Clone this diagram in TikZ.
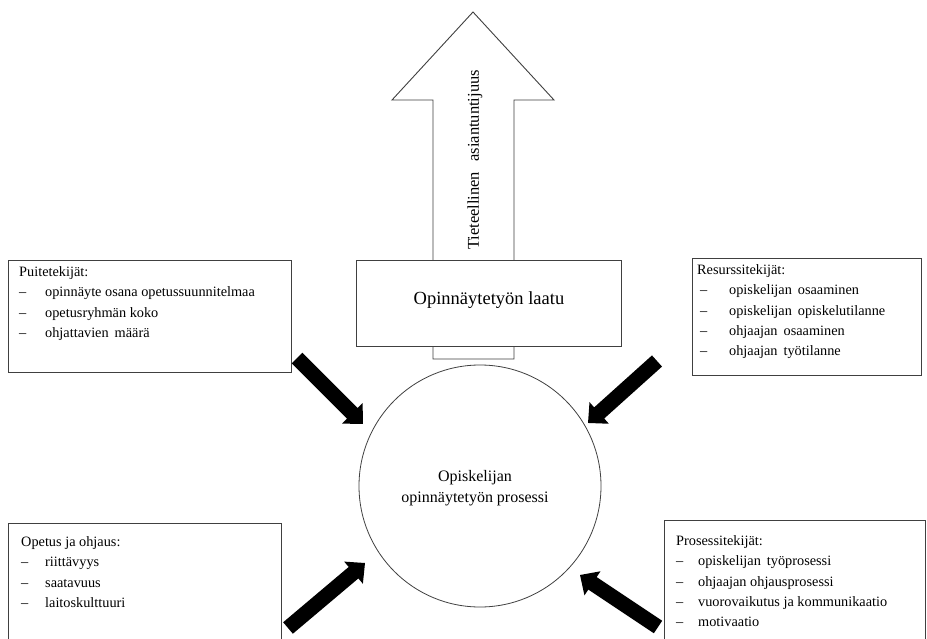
\documentclass[tikz,border=0pt]{standalone}
\usepackage{fontspec}
\setmainfont{Liberation Serif}
\usetikzlibrary{calc}

% thick black block arrow from #1 (tail) to #2 (tip)
\newcommand\blockarrow[2]{%
  \path let \p1=(#1), \p2=(#2),
    \n1={atan2(\y2-\y1,\x2-\x1)}, \n2={veclen(\x2-\x1,\y2-\y1)} in
    \pgfextra{\xdef\arrang{\n1}\xdef\arrlen{\n2}};
  \fill[pusharrow, shift={(#1)}, rotate=\arrang]
    (0,7.5) -- (\arrlen-15,7.5) -- (\arrlen-15,14.5) -- (\arrlen,0)
    -- (\arrlen-15,-14.5) -- (\arrlen-15,-7.5) -- (0,-7.5) -- cycle;}

\begin{document}
\begin{tikzpicture}[x=1pt,y=-1pt,
  frame/.style={draw=black!75, line width=0.9pt, fill=white, inner sep=0pt},
  bodyfont/.style={font=\fontsize{14.3}{20.3}\selectfont},
  bigfont/.style={font=\fontsize{16}{21}\selectfont},
  listtext/.style={bodyfont, inner sep=0pt, align=left, anchor=north west},
  pusharrow/.style={fill=black}]
\clip (0,0) rectangle (927,639);
\fill[white] (0,0) rectangle (927,639);

% upward hollow arrow behind the quality box
\draw[frame] (433,359) -- (433,100) -- (392,100) -- (473,12) -- (554,100)
  -- (514,100) -- (514,359) -- cycle;
\node[font=\fontsize{16.5}{21}\selectfont, rotate=90, inner sep=0pt] (tiet) at (475,160)
  {Tieteellinen\hspace{6pt} asiantuntijuus};

% quality box
\node[frame, minimum width=265pt, minimum height=86pt] (laatu) at (488.5,303) {};
\node[font=\fontsize{18.5}{21}\selectfont, inner sep=0pt] (laatut) at (489,300) {Opinnäytetyön laatu};

% central process
\node[circle, draw=black!75, line width=0.8pt, minimum size=242pt, inner sep=0pt] (proc) at (480,486) {};
\node[bigfont, align=center, inner sep=0pt] (proct) at (475,488.5) {Opiskelijan\\opinnäytetyön prosessi};

% factor boxes
\node[frame, anchor=north west, minimum width=283pt, minimum height=112pt] (puite) at (8,260) {};
\node[listtext] (puitet) at (19,266.5) {Puitetekijät:\\
  \makebox[26pt][l]{–}opinnäyte osana opetussuunnitelmaa\\
  \makebox[26pt][l]{–}opetusryhmän koko\\
  \makebox[26pt][l]{–}ohjattavien\, määrä};

\node[frame, anchor=north west, minimum width=229pt, minimum height=117pt] (resurssi) at (692,258) {};
\node[listtext] (resurssit) at (697,264.5) {Resurssitekijät:\\
  \hspace*{3pt}\makebox[29pt][l]{–}opiskelijan\, osaaminen\\
  \hspace*{3pt}\makebox[29pt][l]{–}opiskelijan\, opiskelutilanne\\
  \hspace*{3pt}\makebox[29pt][l]{–}ohjaajan\, osaaminen\\
  \hspace*{3pt}\makebox[29pt][l]{–}ohjaajan\, työtilanne};

\node[frame, anchor=north west, minimum width=273pt, minimum height=140pt] (opetus) at (8,523) {};
\node[listtext] (opetust) at (21,536.5) {Opetus ja ohjaus:\\
  \makebox[24pt][l]{–}riittävyys\\
  \makebox[24pt][l]{–}saatavuus\\
  \makebox[24pt][l]{–}laitoskulttuuri};

\node[frame, anchor=north west, minimum width=261pt, minimum height=140pt] (prosessi) at (664,520) {};
\node[listtext] (prosessit) at (676,535.5) {Prosessitekijät:\\
  \makebox[22pt][l]{–}opiskelijan\, työprosessi\\
  \makebox[22pt][l]{–}ohjaajan ohjausprosessi\\
  \makebox[22pt][l]{–}vuorovaikutus ja kommunikaatio\\
  \makebox[22pt][l]{–}motivaatio};

% influence arrows towards the process
\coordinate (t1) at (297,358); \coordinate (p1) at (363,424);
\coordinate (t2) at (657,361); \coordinate (p2) at (588,423);
\coordinate (t3) at (288,628); \coordinate (p3) at (365,563);
\coordinate (t4) at (658,627); \coordinate (p4) at (580,575);
\blockarrow{t1}{p1}
\blockarrow{t2}{p2}
\blockarrow{t3}{p3}
\blockarrow{t4}{p4}
\end{tikzpicture}
\end{document}
